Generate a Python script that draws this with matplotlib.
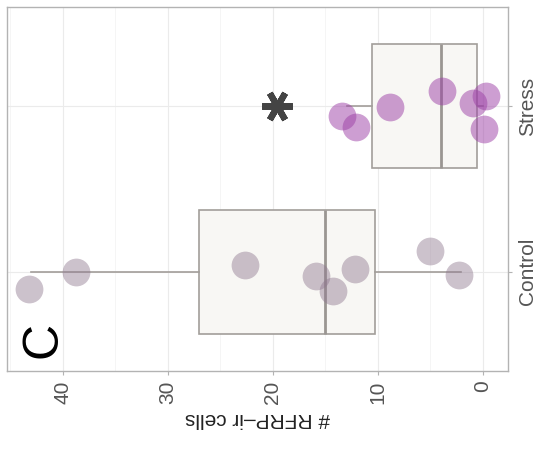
import matplotlib
matplotlib.use("Agg")
import matplotlib.pyplot as plt
from matplotlib.ticker import MultipleLocator, FixedLocator

plt.rcParams['font.family'] = ['Liberation Sans', 'DejaVu Sans']

# groups and their positions on the category axis
groups = ["Control", "Stress"]
group_pos = [1, 2]

# RFRP-ir cell counts per animal (jittered positions as plotted)
control_counts = [43.2, 38.7, 22.6, 15.9, 14.3, 12.2, 5.05, 2.3]
control_jitter = [-0.103, 0.0, 0.042, -0.026, -0.115, 0.016, 0.123, -0.018]
stress_counts = [13.4, 12.1, 8.85, 3.85, 0.9, -0.3, -0.12]
stress_jitter = [-0.060, -0.125, -0.002, 0.091, 0.018, 0.064, -0.135]

# box summary statistics (whisker low, Q1, median, Q3, whisker high)
control_box = [2.07, 10.26, 15.02, 27.0, 43.0]
stress_box = [0.0, 0.54, 4.0, 10.51, 12.95]

value_ticks = [0, 10, 20, 30, 40]
value_label = "# RFRP\u2013ir cells"
panel_tag = "C"
signif_mark_value = 19.6

fig = plt.figure(figsize=(5.4, 4.55), dpi=100)
ax = fig.add_axes([0.0124, 0.1853, 0.9289, 0.7987])

# boxes
stats = []
for name, b in zip(groups, [control_box, stress_box]):
    stats.append(dict(label=name, whislo=b[0], q1=b[1], med=b[2], q3=b[3], whishi=b[4]))
edge = '#a29e9a'
ax.bxp(stats, positions=group_pos, orientation='horizontal', widths=0.75,
       showfliers=False, showcaps=False, patch_artist=True,
       boxprops=dict(facecolor='#f8f7f4', edgecolor=edge, lw=1.2),
       whiskerprops=dict(color=edge, lw=1.2),
       medianprops=dict(color='#9a9692', lw=2.0),
       zorder=2)

# points
ax.scatter(control_counts, [group_pos[0] + j for j in control_jitter],
           s=400, color='#8f788f', alpha=0.45, lw=0, zorder=3)
ax.scatter(stress_counts, [group_pos[1] + j for j in stress_jitter],
           s=400, color='#9c3fa6', alpha=0.5, lw=0, zorder=3)

# significance mark and panel tag
ax.plot([signif_mark_value], [group_pos[1]], marker=(6, 2, 90), markersize=22,
        markeredgewidth=4.5, color='#444444', zorder=4)
ax.text(41.8, 0.585, panel_tag, rotation=90, fontsize=36, color='black',
        ha='center', va='center', zorder=4)

# scales and grid
ax.set_xlim(45.33, -2.44)
ax.set_ylim(0.4, 2.6)
ax.xaxis.set_major_locator(FixedLocator(value_ticks))
ax.xaxis.set_minor_locator(MultipleLocator(5))
ax.set_xticklabels([str(v) for v in value_ticks])
ax.set_yticks(group_pos, labels=groups)
ax.grid(which='major', color='#ebebeb', lw=0.8, zorder=0)
ax.grid(which='minor', axis='x', color='#f4f4f4', lw=0.6, zorder=0)
ax.set_axisbelow(True)

# axes styling
for s in ax.spines.values():
    s.set_color('#b3b3b3')
    s.set_linewidth(1.0)
ax.yaxis.tick_right()
ax.tick_params(axis='x', which='major', length=3, width=0.8, color='#b3b3b3',
               labelsize=15, labelcolor='#555555', pad=4, labelrotation=90)
ax.tick_params(axis='x', which='minor', length=0)
ax.tick_params(axis='y', length=3, width=0.8, color='#b3b3b3',
               labelsize=15, labelcolor='#555555', pad=4, labelrotation=90)
for lab in ax.get_yticklabels():
    lab.set_va('center')
ax.set_xlabel(value_label, rotation=180, fontsize=15, color='#222222', labelpad=4)

fig.savefig("out.png", dpi=100)
